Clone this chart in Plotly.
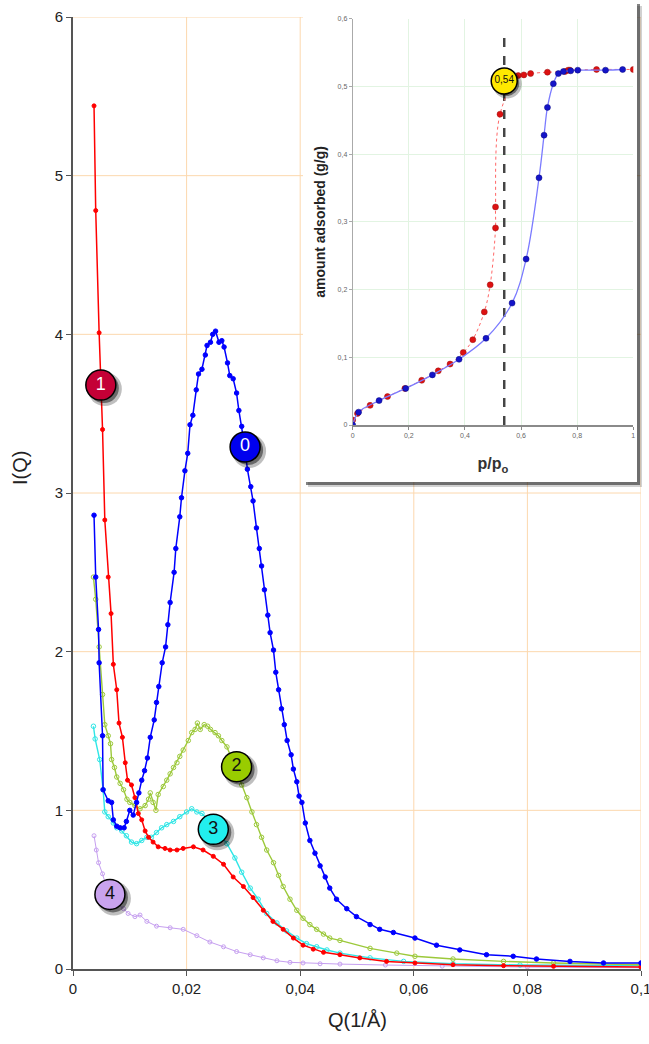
import plotly.graph_objects as go

# --- main chart: scattering curves I(Q), samples 0..4 ---
q0 = [0.0037, 0.0040, 0.0045, 0.0046, 0.0052, 0.0053, 0.0062, 0.0068, 0.0071, 0.0077,
      0.0083, 0.0090, 0.0094, 0.0100, 0.0106, 0.0112, 0.0116, 0.0121, 0.0126, 0.0131,
      0.0136, 0.0143, 0.0147, 0.0151, 0.0157, 0.0163, 0.0167, 0.0171, 0.0178, 0.0181,
      0.0188, 0.0191, 0.0197, 0.0202, 0.0206, 0.0211, 0.0217, 0.0221, 0.0227, 0.0233,
      0.0236, 0.0242, 0.0246, 0.0251, 0.0257, 0.0262, 0.0266, 0.0272, 0.0276, 0.0282,
      0.0288, 0.0292, 0.0297, 0.0302, 0.0307, 0.0313, 0.0317, 0.0323, 0.0328, 0.0332,
      0.0337, 0.0343, 0.0347, 0.0353, 0.0357, 0.0362, 0.0367, 0.0372, 0.0377, 0.0384,
      0.0388, 0.0394, 0.0398, 0.0403, 0.0409, 0.0417, 0.0426, 0.0435, 0.0444, 0.0452,
      0.0464, 0.0482, 0.0499, 0.0523, 0.0540, 0.0564, 0.0602, 0.0640, 0.0681, 0.0728,
      0.0775, 0.0816, 0.0875, 0.0934, 0.1000]
i0 = [2.86, 2.47, 2.14, 1.93, 1.47, 1.13, 1.06, 1.05, 0.94, 0.90,
      0.89, 0.89, 0.93, 1.00, 0.97, 1.05, 1.11, 1.19, 1.25, 1.33,
      1.46, 1.57, 1.68, 1.78, 1.93, 2.03, 2.17, 2.31, 2.50, 2.65,
      2.85, 2.97, 3.14, 3.25, 3.43, 3.49, 3.65, 3.75, 3.78, 3.87,
      3.93, 3.95, 4.00, 4.02, 3.95, 3.96, 3.92, 3.82, 3.74, 3.72,
      3.63, 3.52, 3.42, 3.30, 3.15, 3.04, 2.95, 2.78, 2.65, 2.54,
      2.39, 2.23, 2.12, 2.01, 1.87, 1.76, 1.64, 1.54, 1.44, 1.35,
      1.26, 1.18, 1.09, 1.05, 0.92, 0.81, 0.73, 0.65, 0.58, 0.51,
      0.44, 0.38, 0.33, 0.28, 0.25, 0.23, 0.195, 0.15, 0.12, 0.09,
      0.08, 0.063, 0.048, 0.038, 0.038]

q1 = [0.0037, 0.0040, 0.0046, 0.0052, 0.0056, 0.0062, 0.0067, 0.0071, 0.0077, 0.0081,
      0.0087, 0.0092, 0.0096, 0.0103, 0.0109, 0.0115, 0.0121, 0.0127, 0.0133, 0.0141,
      0.0150, 0.0162, 0.0171, 0.0183, 0.0194, 0.0212, 0.0229, 0.0247, 0.0265, 0.0282,
      0.0300, 0.0317, 0.0335, 0.0352, 0.0370, 0.0388, 0.0405, 0.0423, 0.0441, 0.0470,
      0.0505, 0.0552, 0.0602, 0.0669, 0.0758, 0.0846, 0.1000]
i1 = [5.44, 4.78, 4.01, 3.40, 2.83, 2.47, 2.24, 1.92, 1.76, 1.55,
      1.46, 1.30, 1.19, 1.16, 1.08, 0.98, 0.94, 0.87, 0.83, 0.80,
      0.77, 0.76, 0.75, 0.75, 0.76, 0.77, 0.75, 0.71, 0.66, 0.58,
      0.52, 0.45, 0.37, 0.30, 0.25, 0.195, 0.15, 0.125, 0.105, 0.09,
      0.07, 0.048, 0.038, 0.027, 0.021, 0.017, 0.012]

q2 = [0.0036, 0.0040, 0.0046, 0.0052, 0.0056, 0.0062, 0.0066, 0.0068, 0.0073, 0.0077,
      0.0083, 0.0089, 0.0095, 0.0100, 0.0109, 0.0118, 0.0127, 0.0133, 0.0136, 0.0141,
      0.0146, 0.0150, 0.0159, 0.0165, 0.0171, 0.0177, 0.0183, 0.0188, 0.0194, 0.0203,
      0.0209, 0.0215, 0.0219, 0.0224, 0.0231, 0.0237, 0.0242, 0.0250, 0.0256, 0.0262,
      0.0271, 0.0280, 0.0289, 0.0297, 0.0306, 0.0315, 0.0323, 0.0332, 0.0341, 0.0353,
      0.0362, 0.0370, 0.0382, 0.0394, 0.0405, 0.0417, 0.0429, 0.0441, 0.0452, 0.0470,
      0.0523, 0.0570, 0.0602, 0.0669, 0.0758, 0.0846, 0.1000]
i2 = [2.47, 2.33, 2.03, 1.73, 1.54, 1.47, 1.42, 1.32, 1.27, 1.21,
      1.17, 1.13, 1.07, 1.05, 1.03, 1.01, 1.03, 1.07, 1.11, 1.05,
      1.00, 1.10, 1.15, 1.19, 1.23, 1.27, 1.30, 1.34, 1.38, 1.44,
      1.49, 1.51, 1.55, 1.51, 1.54, 1.53, 1.51, 1.49, 1.47, 1.44,
      1.40, 1.32, 1.24, 1.16, 1.08, 0.99, 0.91, 0.83, 0.75, 0.67,
      0.59, 0.52, 0.44, 0.37, 0.32, 0.28, 0.25, 0.22, 0.195, 0.18,
      0.13, 0.10, 0.08, 0.063, 0.048, 0.038, 0.027]

q3 = [0.0036, 0.0039, 0.0047, 0.0053, 0.0056, 0.0062, 0.0071, 0.0077, 0.0086, 0.0094,
      0.0103, 0.0112, 0.0121, 0.0130, 0.0138, 0.0147, 0.0156, 0.0165, 0.0177, 0.0188,
      0.0200, 0.0209, 0.0218, 0.0227, 0.0240, 0.0255, 0.0271, 0.0285, 0.0297, 0.0312,
      0.0326, 0.0341, 0.0359, 0.0376, 0.0394, 0.0411, 0.0429, 0.0447, 0.0470, 0.0523,
      0.0582, 0.0669, 0.0787, 0.1000]
i3 = [1.53, 1.45, 1.32, 1.13, 0.99, 0.96, 0.92, 0.89, 0.87, 0.84,
      0.80, 0.79, 0.81, 0.83, 0.83, 0.86, 0.89, 0.91, 0.93, 0.96,
      0.99, 1.01, 0.99, 0.98, 0.93, 0.86, 0.79, 0.70, 0.61, 0.51,
      0.44, 0.35, 0.29, 0.24, 0.195, 0.16, 0.14, 0.12, 0.10, 0.07,
      0.048, 0.033, 0.025, 0.021]

q4 = [0.0037, 0.0041, 0.0045, 0.0052, 0.0060, 0.0075, 0.0089, 0.0097, 0.0109, 0.0118,
      0.0130, 0.0147, 0.0171, 0.0194, 0.0218, 0.0241, 0.0265, 0.0288, 0.0312, 0.0335,
      0.0359, 0.0382, 0.0405, 0.0435, 0.0470, 0.0550, 0.0650, 0.0800, 0.1000]
i4 = [0.84, 0.75, 0.67, 0.60, 0.50, 0.42, 0.38, 0.35, 0.33, 0.34,
      0.30, 0.27, 0.26, 0.25, 0.21, 0.17, 0.14, 0.11, 0.09, 0.07,
      0.052, 0.042, 0.038, 0.033, 0.031, 0.025, 0.018, 0.012, 0.008]

# curve badges
badge_text = ["0", "1", "2", "3", "4"]
badge_q = [0.0303, 0.0049, 0.0288, 0.0247, 0.0065]
badge_i = [3.29, 3.68, 1.275, 0.88, 0.47]

x_ticks = [0, 0.02, 0.04, 0.06, 0.08, 0.1]
x_ticktext = ["0", "0,02", "0,04", "0,06", "0,08", "0,1"]
y_ticks = [0, 1, 2, 3, 4, 5, 6]

# --- inset: adsorption isotherm ---
p_ads = [0.0, 0.021, 0.094, 0.189, 0.284, 0.379, 0.475, 0.568, 0.618, 0.664,
         0.682, 0.694, 0.715, 0.733, 0.751, 0.777, 0.802, 0.901, 0.962]
n_ads = [0.0, 0.019, 0.036, 0.054, 0.074, 0.097, 0.128, 0.180, 0.245, 0.365,
         0.428, 0.469, 0.504, 0.519, 0.522, 0.523, 0.524, 0.524, 0.525]
p_des = [0.0, 0.017, 0.062, 0.124, 0.186, 0.246, 0.305, 0.347, 0.394, 0.428,
         0.469, 0.490, 0.509, 0.509, 0.525, 0.590, 0.610, 0.634, 0.694, 0.757,
         0.768, 0.774, 0.869, 1.0]
n_des = [0.0074, 0.017, 0.029, 0.042, 0.054, 0.066, 0.080, 0.090, 0.107, 0.126,
         0.167, 0.207, 0.291, 0.322, 0.459, 0.516, 0.517, 0.519, 0.521, 0.522,
         0.524, 0.524, 0.525, 0.525]
p_cond = 0.54
p_cond_text = "0,54"
n_badge = 0.508

ix_ticks = [0, 0.2, 0.4, 0.6, 0.8, 1]
ix_ticktext = ["0", "0,2", "0,4", "0,6", "0,8", "1"]
iy_ticks = [0, 0.1, 0.2, 0.3, 0.4, 0.5, 0.6]
iy_ticktext = ["0", "0,1", "0,2", "0,3", "0,4", "0,5", "0,6"]

# --- style ---
FONT = "Liberation Sans, Arial, sans-serif"
W, H = 649, 1044
ML, MR, MT, MB = 73, 8, 17, 75
PW, PH = W - ML - MR, H - MT - MB

def px_x(px):  # screen pixel -> paper
    return (px - ML) / PW

def px_y(py):
    return (H - MB - py) / PH

fig = go.Figure()

curves = [
    (q4, i4, "#c69ff0", "circle-open", 4, 1.0),
    (q3, i3, "#2ee6e6", "circle-open", 4.5, 1.4),
    (q2, i2, "#9cc93a", "circle-open", 4.5, 1.4),
    (q1, i1, "#ff0000", "circle", 4, 1.5),
    (q0, i0, "#0000ff", "circle", 4.5, 1.5),
]
for q, i, col, sym, ms, lw in curves:
    fig.add_trace(go.Scatter(
        x=q, y=i, mode="lines+markers",
        line=dict(color=col, width=lw),
        marker=dict(symbol=sym, size=ms, color=col, line=dict(color=col, width=1)),
        showlegend=False, hoverinfo="skip"))

# badges with a soft drop shadow
badge_fill = ["#0000ee", "#c40036", "#99cc00", "#22eeee", "#c9a3ee"]
badge_font = ["white", "white", "#111111", "#111111", "#111111"]
dqx, diy = 0.1 / PW, 6 / PH
for off, alpha, size in [(4, 0.25, 34), (3, 0.45, 30)]:
    fig.add_trace(go.Scatter(
        x=[q + off * dqx for q in badge_q], y=[v - off * diy for v in badge_i],
        mode="markers", marker=dict(size=size, color="rgba(0,0,0,%s)" % alpha),
        showlegend=False, hoverinfo="skip"))
fig.add_trace(go.Scatter(
    x=badge_q, y=badge_i, mode="markers+text", text=badge_text,
    textposition="middle center",
    textfont=dict(family=FONT, size=18, color=badge_font),
    marker=dict(size=30, color=badge_fill, line=dict(color="black", width=1.5)),
    showlegend=False, hoverinfo="skip"))

# inset traces
fig.add_trace(go.Scatter(
    x=[p_cond, p_cond], y=[0, 0.583], xaxis="x2", yaxis="y2", mode="lines",
    line=dict(color="#444444", width=2.5, dash="dash"),
    showlegend=False, hoverinfo="skip"))
fig.add_trace(go.Scatter(
    x=p_des, y=n_des, xaxis="x2", yaxis="y2", mode="lines+markers",
    line=dict(color="#ff6666", width=1, dash="dot", shape="spline"),
    marker=dict(size=6, color="#dd1111", line=dict(color="#991111", width=0.5)),
    showlegend=False, hoverinfo="skip"))
fig.add_trace(go.Scatter(
    x=p_ads, y=n_ads, xaxis="x2", yaxis="y2", mode="lines+markers",
    line=dict(color="#7b7bff", width=1.3, shape="spline"),
    marker=dict(size=6, color="#1414c8", line=dict(color="#0a0a80", width=0.5)),
    showlegend=False, hoverinfo="skip"))
ix_px, iy_px = 1 / 280.6, 0.6 / 406.3
for off, alpha, size in [(3, 0.25, 29), (2, 0.45, 26)]:
    fig.add_trace(go.Scatter(
        x=[p_cond + off * ix_px], y=[n_badge - off * iy_px], xaxis="x2", yaxis="y2",
        mode="markers", marker=dict(size=size, color="rgba(0,0,0,%s)" % alpha),
        showlegend=False, hoverinfo="skip"))
fig.add_trace(go.Scatter(
    x=[p_cond], y=[n_badge], xaxis="x2", yaxis="y2", mode="markers+text",
    text=[p_cond_text], textposition="middle center",
    textfont=dict(family=FONT, size=10, color="#111111"),
    marker=dict(size=26, color="#ffe800", line=dict(color="black", width=1.5)),
    showlegend=False, hoverinfo="skip"))

# main grid as shapes so the inset box can hide it
grid = "#fcd8ae"
shapes = []
for v in x_ticks[1:]:
    shapes.append(dict(type="line", xref="x", yref="paper", x0=v, x1=v, y0=0, y1=1,
                       layer="below", line=dict(color=grid, width=1)))
for v in y_ticks[1:]:
    shapes.append(dict(type="line", xref="paper", yref="y", x0=0, x1=1, y0=v, y1=v,
                       layer="below", line=dict(color=grid, width=1)))
# inset panel with shadow
bx0, bx1, by0, by1 = px_x(303), px_x(637), px_y(482), px_y(1)
for off, col in [(5, "rgba(0,0,0,0.18)"), (3, "rgba(30,30,30,0.55)")]:
    shapes.append(dict(type="rect", xref="paper", yref="paper",
                       x0=bx0 + off / PW, x1=bx1 + off / PW,
                       y0=by0 - off / PH, y1=by1 - off / PH,
                       layer="below", line=dict(width=0), fillcolor=col))
shapes.append(dict(type="rect", xref="paper", yref="paper", x0=bx0, x1=bx1, y0=by0, y1=by1,
                   layer="below", line=dict(width=0), fillcolor="white"))

fig.update_layout(
    width=W, height=H, autosize=False,
    margin=dict(l=ML, r=MR, t=MT, b=MB),
    paper_bgcolor="white", plot_bgcolor="white",
    font=dict(family=FONT, color="#222222"),
    shapes=shapes,
    xaxis=dict(range=[0, 0.1], tickvals=x_ticks, ticktext=x_ticktext, automargin=False,
               showgrid=False, zeroline=False, showline=True, linecolor="#555555",
               linewidth=2, ticks="outside", ticklen=5, tickcolor="#555555",
               ticklabeloverflow="allow",
               tickfont=dict(size=15, color="#222222")),
    yaxis=dict(range=[0, 6], tickvals=y_ticks, showgrid=False, zeroline=False,
               automargin=False,
               showline=True, linecolor="#555555", linewidth=2, ticks="outside",
               ticklen=5, tickcolor="#555555", tickfont=dict(size=15, color="#222222")),
    xaxis2=dict(domain=[px_x(352.7), px_x(633.3)], anchor="y2", range=[0, 1],
                automargin=False,
                tickvals=ix_ticks, ticktext=ix_ticktext, showgrid=True,
                gridcolor="#e2f4e2", zeroline=False, showline=True, linecolor="#8a8a8a",
                linewidth=1.5, ticks="outside", ticklen=3, tickcolor="#8a8a8a",
                tickfont=dict(size=7, color="#666666"),
                title=dict(text="<b>p/p<sub>o</sub></b>", standoff=20,
                           font=dict(size=16, color="#333333"))),
    yaxis2=dict(domain=[px_y(425), px_y(18.7)], anchor="x2", range=[0, 0.6],
                automargin=False,
                tickvals=iy_ticks, ticktext=iy_ticktext, showgrid=True,
                gridcolor="#e2f4e2", zeroline=False, showline=True, linecolor="#aaaaaa",
                linewidth=1, ticks="outside", ticklen=3, tickcolor="#aaaaaa",
                tickfont=dict(size=7, color="#666666"),
                title=dict(text="<b>amount adsorbed (g/g)</b>", standoff=8,
                           font=dict(size=14, color="#222222"))),
    annotations=[
        dict(text="I(Q)", xref="paper", yref="paper", x=px_x(20), y=px_y(468),
             textangle=-90, showarrow=False, font=dict(size=20, color="#222222"),
             xanchor="center", yanchor="middle"),
        dict(text="Q(1/Å)", xref="paper", yref="paper", x=px_x(357), y=px_y(1020),
             showarrow=False, font=dict(size=20, color="#222222"),
             xanchor="center", yanchor="middle"),
    ],
)

fig.write_html("out.html", config={"displayModeBar": False, "responsive": False},
               post_script="document.documentElement.style.overflow='hidden';"
                           "document.body.style.margin='0px';"
                           "document.body.style.overflow='hidden';")
